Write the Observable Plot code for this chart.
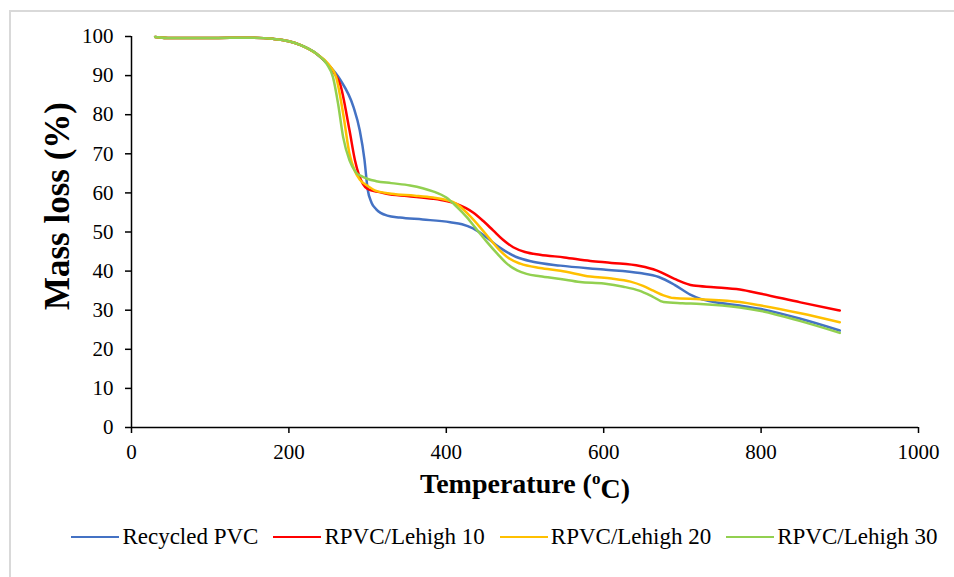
<!DOCTYPE html>
<html>
<head>
<meta charset="utf-8">
<script src="https://cdn.jsdelivr.net/npm/d3@7"></script>
<script src="https://cdn.jsdelivr.net/npm/@observablehq/plot@0.6"></script>
<style>
  html, body { margin: 0; padding: 0; background: #fff; overflow: hidden; width: 954px; height: 577px; }
  #frame { position: absolute; left: 9px; top: 10px; width: 1200px; height: 1200px;
           border-left: 2px solid #d9d9d9; border-top: 2px solid #d9d9d9; pointer-events: none; }
  #chart { position: absolute; left: 0; top: 0; }
  #legend { position: absolute; left: 0; top: 524px; width: 954px; height: 26px;
            display: flex; justify-content: center; align-items: center;
            font-family: "Liberation Serif", serif; font-size: 23px; color: #000; padding-left: 70px; box-sizing: border-box; }
  .item { display: flex; align-items: center; margin-right: 15px; }
  .sw { width: 48px; height: 2.5px; margin-right: 3px; }
</style>
</head>
<body>
<div id="frame"></div>
<div id="chart"></div>
<div id="legend"></div>
<script>
const seriesNames = ["Recycled PVC", "RPVC/Lehigh 10", "RPVC/Lehigh 20", "RPVC/Lehigh 30"];
const seriesColors = ["#4472C4", "#FF0000", "#FFC000", "#92D050"];
const xTicks = [0, 200, 400, 600, 800, 1000];
const yTicks = [0, 10, 20, 30, 40, 50, 60, 70, 80, 90, 100];
const xTitle = "Temperature (oC)";
const yTitle = "Mass loss (%)";

const tempPVC = [30, 50, 100, 150, 180, 200, 215, 235, 250, 265, 282, 290, 296, 300, 305, 311, 325, 341, 370, 405, 420, 434, 450, 468, 489, 510, 545, 600, 646, 670, 690, 710, 723, 740, 773, 800, 850, 900];
const massPVC = [99.9, 99.6, 99.6, 99.7, 99.4, 98.8, 97.8, 95.6, 92.8, 89, 82, 76, 68.5, 61, 57.5, 55.8, 54.2, 53.7, 53.2, 52.5, 52, 50.9, 48.8, 46, 43.6, 42.4, 41.4, 40.4, 39.5, 38.5, 36.5, 34, 32.9, 32.1, 31.2, 30.3, 27.8, 24.8];

const temp10 = [30, 50, 100, 150, 180, 200, 215, 235, 250, 258, 265, 277, 284, 294, 300, 315, 324, 350, 383, 400, 413, 425, 434, 447, 459.5, 472, 485, 500, 519, 550, 583, 610, 646, 667, 690, 714, 740, 773, 800, 850, 900];
const mass10 = [99.9, 99.6, 99.6, 99.7, 99.4, 98.8, 97.8, 95.6, 92.8, 90.5, 87.9, 76, 68.3, 62.3, 61, 60.2, 59.8, 59.2, 58.5, 57.9, 57.2, 56.1, 55, 52.8, 50.4, 48, 46.1, 44.9, 44.2, 43.5, 42.6, 42.1, 41.3, 40.2, 38, 36.3, 35.9, 35.3, 34.2, 32, 29.9];

const temp20 = [30, 50, 100, 150, 180, 200, 215, 235, 250, 260, 269, 277, 283, 290, 300, 311, 330, 360, 383, 400, 413, 428, 443, 455, 468, 480, 494, 519, 545, 583, 610, 634, 650, 663, 676, 689, 723, 773, 800, 850, 900];
const mass20 = [99.9, 99.6, 99.6, 99.7, 99.4, 98.8, 97.8, 95.6, 93, 89.6, 80.2, 70, 66, 63.4, 61.8, 60.5, 59.8, 59.3, 58.8, 58.2, 57.2, 54.5, 51.2, 48.3, 45.3, 43.2, 41.9, 40.8, 40.1, 38.6, 38.1, 37.3, 36.2, 35, 33.8, 33.1, 32.8, 32.1, 31.2, 29.2, 26.9];

const temp30 = [30, 50, 100, 150, 180, 200, 215, 235, 248, 256, 262.5, 269, 277, 285, 294, 311, 330, 354, 370, 383, 400, 413, 426, 438, 451, 465, 477, 490, 502, 519, 545, 570, 600, 625, 645, 662, 676, 700, 723, 773, 800, 850, 900];
const mass30 = [99.9, 99.6, 99.6, 99.7, 99.4, 98.8, 97.8, 95.6, 93, 89.6, 82.8, 74.2, 68.3, 65.3, 64.1, 63, 62.5, 61.9, 61.2, 60.4, 58.8, 56.5, 53.8, 50.8, 47.6, 44.4, 41.9, 40.2, 39.3, 38.7, 38, 37.2, 36.8, 36, 35, 33.5, 32.1, 31.8, 31.6, 30.7, 29.8, 27.2, 24.2];

const temps = [tempPVC, temp10, temp20, temp30];
const masses = [massPVC, mass10, mass20, mass30];
const rows = seriesNames.flatMap((s, i) => temps[i].map((t, j) => ({series: s, t, m: masses[i][j]})));

const chart = Plot.plot({
  width: 954,
  height: 515,
  marginLeft: 131,
  marginRight: 36,
  marginTop: 36,
  marginBottom: 88,
  style: {fontFamily: "'Liberation Serif', serif", fontSize: "21px", color: "#000", background: "transparent", overflow: "visible"},
  x: {domain: [0, 1000]},
  y: {domain: [0, 100]},
  color: {domain: seriesNames, range: seriesColors},
  marks: [
    Plot.axisX({ticks: xTicks, tickFormat: d => String(d), tickSize: 6, tickPadding: 11, label: null, strokeWidth: 1.5, fontSize: 21}),
    Plot.axisY({ticks: yTicks, tickFormat: d => String(d), tickSize: 6, tickPadding: 12, label: null, strokeWidth: 1.5, fontSize: 21}),
    Plot.ruleY([0], {stroke: "#000", strokeWidth: 1.5}),
    Plot.ruleX([0], {stroke: "#000", strokeWidth: 1.5}),
    Plot.line(rows, {x: "t", y: "m", z: "series", stroke: "series", curve: "monotone-x", strokeWidth: 2.5}),
    Plot.text([xTitle], {text: d => d, frameAnchor: "bottom", textAnchor: "middle", dy: 65, fontWeight: "bold", fontSize: 28, className: "xtitle"}),
    Plot.text([yTitle], {text: d => d, frameAnchor: "left", textAnchor: "middle", dx: -74, dy: -26, rotate: -90, fontWeight: "bold", fontSize: 35})
  ]
});
document.getElementById("chart").appendChild(chart);

// superscript "o" in the x title
d3.select(chart).selectAll("g.xtitle text").each(function() {
  const t = d3.select(this);
  t.text(null);
  t.append("tspan").text("Temperature (");
  t.append("tspan").attr("font-size", 17).attr("dy", "-0.5em").text("o");
  t.append("tspan").attr("dy", "0.5em").text("C)");
});

const legend = d3.select("#legend");
seriesNames.forEach((s, i) => {
  const it = legend.append("div").attr("class", "item");
  it.append("div").attr("class", "sw").style("background", seriesColors[i]);
  it.append("span").text(s);
});
</script>
</body>
</html>
